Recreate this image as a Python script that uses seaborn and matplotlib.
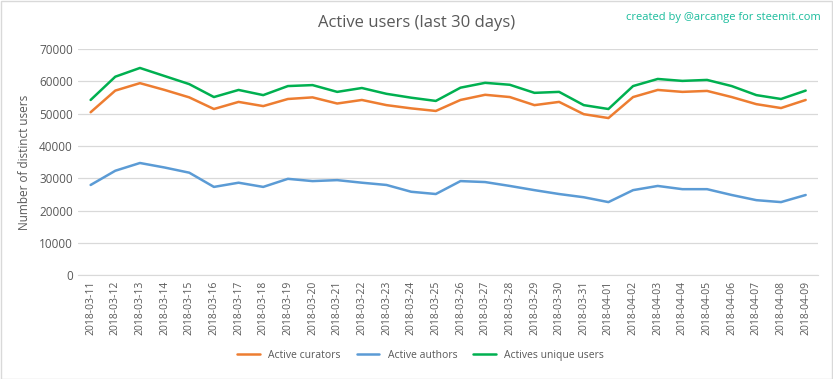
"""
Active users (last 30 days) - curators, authors, unique users
"""

import pandas as pd
import matplotlib
matplotlib.use("Agg")
import matplotlib.pyplot as plt
import seaborn as sns

# Data
dates = ['2018-03-11', '2018-03-12', '2018-03-13', '2018-03-14', '2018-03-15',
         '2018-03-16', '2018-03-17', '2018-03-18', '2018-03-19', '2018-03-20',
         '2018-03-21', '2018-03-22', '2018-03-23', '2018-03-24', '2018-03-25',
         '2018-03-26', '2018-03-27', '2018-03-28', '2018-03-29', '2018-03-30',
         '2018-03-31', '2018-04-01', '2018-04-02', '2018-04-03', '2018-04-04',
         '2018-04-05', '2018-04-06', '2018-04-07', '2018-04-08', '2018-04-09']

curators = [50400, 57100, 59400, 57300, 55000, 51400, 53600, 52300, 54500, 55000,
            53100, 54200, 52600, 51600, 50800, 54200, 55800, 55100, 52600, 53600,
            49800, 48600, 55100, 57300, 56700, 57000, 55100, 52900, 51700, 54200]

authors = [27900, 32300, 34700, 33300, 31700, 27300, 28600, 27300, 29800, 29100,
           29400, 28600, 27900, 25800, 25100, 29100, 28800, 27600, 26300, 25100,
           24100, 22600, 26300, 27600, 26600, 26600, 24800, 23200, 22600, 24800]

unique_users = [54200, 61400, 64100, 61600, 59100, 55100, 57300, 55700, 58500, 58800,
                56700, 57900, 56100, 54900, 53900, 58000, 59500, 58900, 56400, 56700,
                52600, 51400, 58500, 60700, 60100, 60400, 58500, 55700, 54500, 57100]

series_names = ['Active curators', 'Active authors', 'Actives unique users']
series_colors = ['#ED7D31', '#5B9BD5', '#00B050']

sns.set_style("white")
plt.rcParams['font.family'] = ['Open Sans', 'DejaVu Sans']

df = pd.DataFrame({
    'date': dates * 3,
    'users': curators + authors + unique_users,
    'serie': [series_names[0]] * len(dates) + [series_names[1]] * len(dates) + [series_names[2]] * len(dates),
})
df['x'] = list(range(len(dates))) * 3

fig = plt.figure(figsize=(8.33, 3.79), dpi=100)
ax = fig.add_axes([0.094, 0.274, 0.888, 0.597])

sns.lineplot(data=df, x='x', y='users', hue='serie', palette=series_colors,
             hue_order=series_names, linewidth=1.8, ax=ax, legend=False)

ax.set_xlim(-0.5, len(dates) - 0.5)
ax.set_ylim(0, 70000)
ax.set_yticks(range(0, 70001, 10000))
ax.set_yticklabels([str(v) for v in range(0, 70001, 10000)], fontsize=8.5, color='#595959')
ax.set_xticks(range(len(dates)))
ax.set_xticklabels(dates, rotation=90, fontsize=7.5, color='#595959')
ax.tick_params(axis='both', length=0, pad=4)
ax.yaxis.grid(True, color='#D9D9D9', linewidth=0.9)
ax.set_axisbelow(True)
for side in ['top', 'right', 'left']:
    ax.spines[side].set_visible(False)
ax.spines['bottom'].set_color('#D9D9D9')
ax.set_xlabel('')
ax.set_ylabel('Number of distinct users', fontsize=8.5, color='#595959', labelpad=6)

fig.text(0.5, 0.94, 'Active users (last 30 days)', ha='center', va='center',
         fontsize=12, color='#595959')
fig.text(0.985, 0.955, 'created by @arcange for steemit.com', ha='right', va='center',
         fontsize=8, color='#1ABC9C')

handles = [plt.Line2D([], [], color=c, linewidth=1.8) for c in series_colors]
fig.legend(handles, series_names, loc='center', bbox_to_anchor=(0.505, 0.062), ncol=3,
           frameon=False, fontsize=7.5, handlelength=2.2, columnspacing=1.5,
           labelcolor='#595959')

# bordure grise autour de la figure
fig.patches.append(plt.Rectangle((0.001, 0.001), 0.998, 0.997, transform=fig.transFigure,
                                 fill=False, edgecolor='#D9D9D9', linewidth=1))

plt.savefig('out.png', dpi=100)
plt.close()
